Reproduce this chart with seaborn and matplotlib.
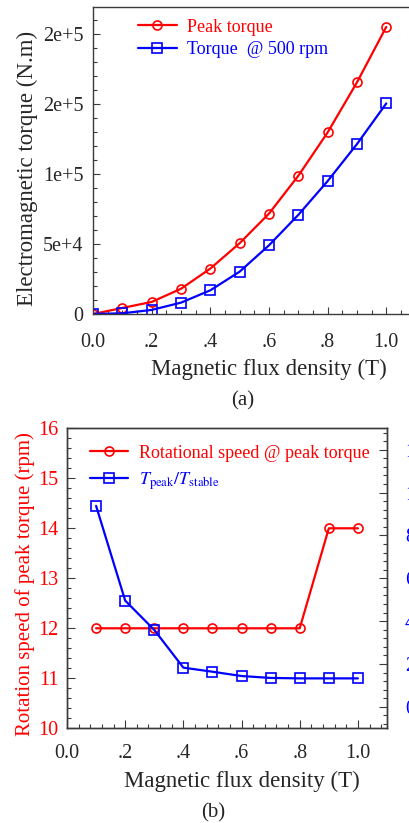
import numpy as np
import pandas as pd
import matplotlib
matplotlib.use("Agg")
import matplotlib.pyplot as plt
from matplotlib.ticker import MultipleLocator, FuncFormatter
from matplotlib.lines import Line2D
import seaborn as sns

# ---- data -------------------------------------------------------------
flux_a = [0.0, 0.1, 0.2, 0.3, 0.4, 0.5, 0.6, 0.7, 0.8, 0.9, 1.0]
peak_torque = [0, 4300, 8600, 18000, 32400, 50500, 71600, 98600, 129500, 165200, 204800]
torque_500rpm = [0, 500, 2900, 8100, 16900, 30200, 49000, 70700, 94800, 121200, 150200]

flux_b = [0.1, 0.2, 0.3, 0.4, 0.5, 0.6, 0.7, 0.8, 0.9, 1.0]
speed_at_peak = [12, 12, 12, 12, 12, 12, 12, 12, 14, 14]
peak_to_stable = [9.38, 4.96, 3.59, 1.83, 1.64, 1.44, 1.35, 1.33, 1.33, 1.33]

# ---- style ------------------------------------------------------------
sns.set_style("ticks")
plt.rcParams["font.family"] = ["Liberation Serif", "DejaVu Serif"]
plt.rcParams["mathtext.fontset"] = "stix"
RED = "#ff0000"
BLUE = "#0000ff"
SPINE = "#3a3a3a"
TICK_FS = 14.5
LABEL_FS = 16.5
LEG_FS = 13

fig = plt.figure(figsize=(4.10, 8.23), dpi=100)
W, H = 410.0, 823.0


def px_axes(left, top, right, bottom):
    return fig.add_axes([left / W, 1 - bottom / H, (right - left) / W, (bottom - top) / H])


def flux_fmt(v, _):
    if abs(v) < 1e-9:
        return "0.0"
    if abs(v - 1.0) < 1e-9:
        return "1.0"
    return f"{v:.1f}".lstrip("0")


def sci_fmt(v, _):
    if abs(v) < 1e-9:
        return "0"
    mant, exp = f"{v:.0e}".split("e")
    return f"{mant}e{int(exp):+d}"


def style_spines(ax):
    for sp in ax.spines.values():
        sp.set_visible(True)
        sp.set_color(SPINE)
        sp.set_linewidth(1.0)


line_kw = dict(linewidth=1.6, markersize=6.5, markerfacecolor="none", markeredgewidth=1.2)

# ---- panel (a): torque vs flux density ---------------------------------
ax1 = px_axes(93, 7, 415.6, 314)
df_a = pd.DataFrame({"flux": flux_a, "peak": peak_torque, "rpm500": torque_500rpm})
sns.lineplot(data=df_a, x="flux", y="peak", ax=ax1, color=RED, marker="o",
             markeredgecolor=RED, errorbar=None, **line_kw)
sns.lineplot(data=df_a, x="flux", y="rpm500", ax=ax1, color=BLUE, marker="s",
             markeredgecolor=BLUE, errorbar=None, **line_kw)
ax1.set_xlim(0, 1.1)
ax1.set_ylim(0, 219000)
ax1.xaxis.set_major_locator(MultipleLocator(0.2))
ax1.xaxis.set_minor_locator(MultipleLocator(0.05))
ax1.yaxis.set_major_locator(MultipleLocator(50000))
ax1.yaxis.set_minor_locator(MultipleLocator(10000))
ax1.xaxis.set_major_formatter(FuncFormatter(flux_fmt))
ax1.yaxis.set_major_formatter(FuncFormatter(sci_fmt))
ax1.tick_params(which="both", direction="in", color=SPINE, width=0.8,
                labelsize=TICK_FS, top=False, right=False)
ax1.tick_params(which="major", length=5)
ax1.tick_params(which="minor", length=2.8)
ax1.tick_params(axis="x", pad=14)
ax1.tick_params(axis="y", pad=7)
style_spines(ax1)
ax1.set_xlabel("Magnetic flux density (T)", fontsize=LABEL_FS)
ax1.set_ylabel("Electromagnetic torque (N.m)", fontsize=LABEL_FS)
ax1.xaxis.set_label_coords(0.5456, -0.146)
ax1.yaxis.set_label_coords(-0.169, 0.475)

h_a = [Line2D([], [], color=RED, marker="o", **line_kw, markeredgecolor=RED),
       Line2D([], [], color=BLUE, marker="s", **line_kw, markeredgecolor=BLUE)]
leg = ax1.legend(h_a, ["Peak torque", "Torque  @ 500 rpm"], loc="upper left",
                 bbox_to_anchor=(0.1395, 0.962), frameon=False, fontsize=LEG_FS,
                 handlelength=2.15, handletextpad=0.55, borderpad=0, borderaxespad=0,
                 labelspacing=0.3)
for t, c in zip(leg.get_texts(), [RED, BLUE]):
    t.set_color(c)

fig.text(242.7 / W, 1 - 401 / H, "(a)", ha="center", va="center", fontsize=15)

# ---- panel (b): speed at peak torque and torque ratio ------------------
ax2 = px_axes(67, 428.3, 387, 728.3)
df_b = pd.DataFrame({"flux": flux_b, "speed": speed_at_peak, "ratio": peak_to_stable})
sns.lineplot(data=df_b, x="flux", y="speed", ax=ax2, color=RED, marker="o",
             markeredgecolor=RED, errorbar=None, **line_kw)
ax2.set_xlim(0, 1.1)
ax2.set_ylim(10, 16)
ax2.xaxis.set_major_locator(MultipleLocator(0.2))
ax2.xaxis.set_minor_locator(MultipleLocator(0.04))
ax2.yaxis.set_major_locator(MultipleLocator(1))
ax2.yaxis.set_minor_locator(MultipleLocator(0.2))
ax2.xaxis.set_major_formatter(FuncFormatter(flux_fmt))
ax2.tick_params(which="both", direction="in", color=SPINE, width=0.8,
                labelsize=TICK_FS, top=False, right=False)
ax2.tick_params(which="major", length=5.5)
ax2.tick_params(which="minor", length=3)
ax2.tick_params(axis="x", pad=11.5)
ax2.tick_params(axis="y", pad=6.3, labelcolor=RED)
style_spines(ax2)
ax2.set_xlabel("Magnetic flux density (T)", fontsize=LABEL_FS)
ax2.set_ylabel("Rotation speed of peak torque (rpm)", fontsize=15, color=RED)
ax2.xaxis.set_label_coords(0.548, -0.142)
ax2.yaxis.set_label_coords(-0.101, 0.48)

ax3 = ax2.twinx()
sns.lineplot(data=df_b, x="flux", y="ratio", ax=ax3, color=BLUE, marker="s",
             markeredgecolor=BLUE, errorbar=None, **line_kw)
ax3.set_ylim(-1, 13)
ax3.yaxis.set_major_locator(MultipleLocator(2))
ax3.yaxis.set_minor_locator(MultipleLocator(0.4))
ax3.set_yticks([0, 2, 4, 6, 8, 10, 12])
ax3.tick_params(which="both", direction="in", color=SPINE, width=0.8,
                labelsize=TICK_FS, labelcolor=BLUE, pad=13, left=False, right=True)
ax3.tick_params(which="major", length=5.5)
ax3.tick_params(which="minor", length=3)
ax3.set_ylabel("")
ax3.set_xlabel("")
style_spines(ax3)

h_b = [Line2D([], [], color=RED, marker="o", **line_kw, markeredgecolor=RED),
       Line2D([], [], color=BLUE, marker="s", **line_kw, markeredgecolor=BLUE)]
leg2 = ax3.legend(h_b, ["Rotational speed @ peak torque",
                        r"$T_{\mathrm{peak}}/T_{\mathrm{stable}}$"],
                  loc="upper left", bbox_to_anchor=(0.072, 0.946), frameon=False,
                  fontsize=LEG_FS, handlelength=2.1, handletextpad=0.6, borderpad=0,
                  borderaxespad=0, labelspacing=0.48)
for t, c in zip(leg2.get_texts(), [RED, BLUE]):
    t.set_color(c)

fig.text(213 / W, 1 - 813 / H, "(b)", ha="center", va="center", fontsize=15)

fig.savefig("out.png", dpi=100)
